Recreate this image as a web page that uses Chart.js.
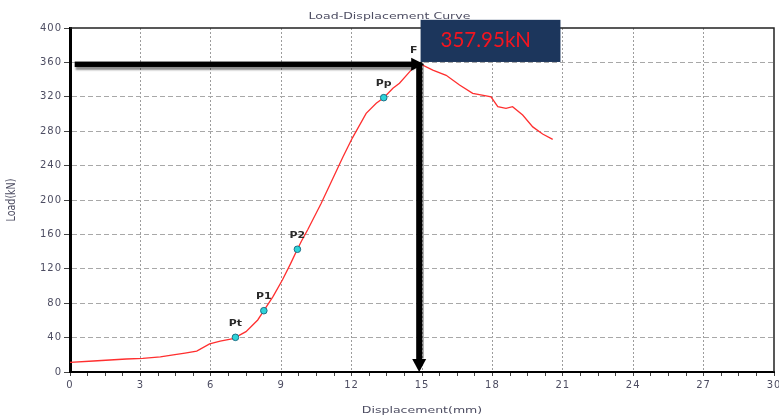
<!DOCTYPE html>
<html><head><meta charset="utf-8">
<script src="https://cdn.jsdelivr.net/npm/chart.js@4.4.1/dist/chart.umd.min.js"></script>
<style>html,body{margin:0;padding:0;background:#fff;overflow:hidden}canvas{display:block}</style>
</head><body>
<canvas id="c" width="779" height="417"></canvas>
<script>
// ---- data ----
const displacement = [0, 1.0, 2.4, 3.1, 3.85, 4.4, 4.9, 5.4, 5.95, 6.4, 6.95, 7.05, 7.5, 8.0, 8.26, 8.65, 9.05, 9.4, 9.69, 9.86, 10.14, 10.7, 11.2, 11.63, 12.03, 12.62, 13.05, 13.37, 13.76, 14.04, 14.6, 14.95, 15.46, 16.03, 16.6, 17.16, 17.73, 17.94, 18.23, 18.58, 18.86, 19.29, 19.72, 20.14, 20.57];
const load = [11.3, 12.8, 15.1, 15.9, 17.5, 19.8, 22, 24.4, 32.6, 36, 38.7, 40.3, 46.9, 60.5, 71.3, 87.6, 107, 126, 142.7, 152, 166, 196, 225, 250, 272, 300.8, 312.5, 319, 330, 335.7, 353, 357.95, 351, 345, 333.7, 324, 321, 320, 308.5, 306.6, 308.5, 298.8, 285, 276.7, 270.5];
const markerNames = ['Pt', 'P1', 'P2', 'Pp', 'F'];
const markerDisp = [7.05, 8.26, 9.69, 13.37, 14.95];
const markerLoad = [40.3, 71.3, 142.7, 319, 357.95];
const xTickLabels = [0, 3, 6, 9, 12, 15, 18, 21, 24, 27, 30];
const yTickLabels = [0, 40, 80, 120, 160, 200, 240, 280, 320, 360, 400];
const peakLoad = 357.95;
const peakArrowDisp = 14.88;
const peakText = '357.95kN';
const chartTitle = 'Load-Displacement Curve';
const xTitle = 'Displacement(mm)';
const yTitle = 'Load(kN)';

const near = (v, list) => list.some(t => Math.abs(t - v) < 1e-6);
const TXT = '#4d4d62';

const decor = {
  id: 'decor',
  beforeDraw(chart) { chart.ctx.letterSpacing = '1px'; },
  beforeDatasetsDraw(chart) {
    const {ctx, chartArea: a} = chart;
    ctx.save();
    ctx.strokeStyle = '#222';
    ctx.lineWidth = 1.5;
    ctx.beginPath();
    ctx.moveTo(a.left, a.top); ctx.lineTo(a.right, a.top); ctx.lineTo(a.right, a.bottom);
    ctx.stroke();
    ctx.restore();
  },
  afterDatasetsDraw(chart) {
    const {ctx} = chart;
    const xs = chart.scales.x, ys = chart.scales.y;
    ctx.save();
    ctx.letterSpacing = '0px';
    // marker labels
    const meta = chart.getDatasetMeta(0);
    ctx.fillStyle = '#2a2a2a';
    ctx.font = 'bold 9.5px "DejaVu Sans"';
    ctx.textAlign = 'center';
    ctx.textBaseline = 'middle';
    meta.data.forEach((pt, i) => {
      const isF = markerNames[i] === 'F';
      ctx.save();
      ctx.translate(pt.x + (isF ? -7 : 0), pt.y - 14);
      ctx.scale(1.15, 1);
      ctx.fillText(markerNames[i], 0, 0);
      ctx.restore();
    });
    // arrows
    const hy = ys.getPixelForValue(peakLoad);
    const hx0 = xs.getPixelForValue(0.2);
    const vx = xs.getPixelForValue(peakArrowDisp);
    const y0 = ys.getPixelForValue(0);
    ctx.fillStyle = '#000';
    ctx.save();
    ctx.shadowColor = 'rgba(0,0,0,0.45)';
    ctx.shadowOffsetY = 3;
    ctx.shadowOffsetX = 1;
    ctx.shadowBlur = 2;
    ctx.fillRect(hx0, hy - 2.6, vx - hx0 - 6, 5.4);
    ctx.restore();
    ctx.beginPath();
    ctx.moveTo(vx + 5, hy); ctx.lineTo(vx - 8, hy - 6.5); ctx.lineTo(vx - 8, hy + 6.5); ctx.closePath();
    ctx.fill();
    ctx.save();
    ctx.shadowColor = 'rgba(0,0,0,0.3)';
    ctx.shadowOffsetX = 1.5;
    ctx.shadowBlur = 1;
    ctx.fillRect(vx - 3, hy - 2, 6, (y0 - 13) - (hy - 2));
    ctx.restore();
    ctx.beginPath();
    ctx.moveTo(vx - 7, y0 - 13); ctx.lineTo(vx + 7, y0 - 13); ctx.lineTo(vx, y0); ctx.closePath();
    ctx.fill();
    // value box
    const bx0 = xs.getPixelForValue(14.94), bx1 = xs.getPixelForValue(20.9);
    const by0 = ys.getPixelForValue(409.5), by1 = ys.getPixelForValue(360.5);
    ctx.fillStyle = '#1c365c';
    ctx.fillRect(bx0, by0, bx1 - bx0, by1 - by0);
    ctx.fillStyle = '#f5141f';
    ctx.font = '20.5px Lato';
    ctx.textAlign = 'left';
    ctx.textBaseline = 'alphabetic';
    ctx.fillText(peakText, bx0 + 20, by0 + 27);
    ctx.restore();
  },
  afterDraw(chart) {
    const {ctx, chartArea: a} = chart;
    ctx.save();
    ctx.letterSpacing = '0px';
    ctx.fillStyle = TXT;
    ctx.textAlign = 'center';
    ctx.textBaseline = 'alphabetic';
    ctx.font = '9.5px "DejaVu Sans"';
    // chart title
    ctx.save(); ctx.translate(chart.width / 2, 19); ctx.scale(1.32, 1); ctx.fillText(chartTitle, 0, 0); ctx.restore();
    // x title
    ctx.save(); ctx.translate((a.left + a.right) / 2, 413); ctx.scale(1.32, 1); ctx.fillText(xTitle, 0, 0); ctx.restore();
    // y title
    ctx.save(); ctx.translate(12, (a.top + a.bottom) / 2); ctx.scale(1.3, 1); ctx.rotate(-Math.PI / 2);
    ctx.textBaseline = 'middle'; ctx.fillText(yTitle, 0, 0); ctx.restore();
    ctx.restore();
  }
};

const tickFont = {family: 'DejaVu Sans', size: 10};

new Chart(document.getElementById('c'), {
  type: 'line',
  data: {
    datasets: [
      {
        data: markerDisp.map((x, i) => ({x, y: markerLoad[i]})),
        showLine: false,
        pointRadius: markerNames.map(n => n === 'F' ? 0 : 3.3),
        pointBackgroundColor: '#2ed3d8',
        pointBorderColor: '#1d6f86',
        pointBorderWidth: 1,
        order: 0
      },
      {
        data: displacement.map((x, i) => ({x, y: load[i]})),
        borderColor: '#ff2f2f',
        borderWidth: 1.3,
        pointRadius: 0,
        tension: 0,
        fill: false,
        order: 1
      }
    ]
  },
  options: {
    responsive: false,
    animation: false,
    devicePixelRatio: 1,
    layout: {padding: {top: 28, right: 4, left: 0, bottom: 0}},
    plugins: {legend: {display: false}, tooltip: {enabled: false}, title: {display: false}},
    scales: {
      x: {
        type: 'linear', min: 0, max: 30,
        afterFit(s) { s.height = 45; s.paddingLeft = 0; s.paddingRight = 0; },
        ticks: {
          stepSize: 0.75, autoSkip: false, maxRotation: 0, minRotation: 0, padding: 3,
          color: TXT, font: tickFont,
          callback: v => near(v, xTickLabels) ? String(Math.round(v)) : ''
        },
        grid: {
          color: c => (c.tick && near(c.tick.value, xTickLabels) && c.tick.value > 0 && c.tick.value < 30) ? '#9c9c9c' : 'rgba(0,0,0,0)',
          lineWidth: 1, tickLength: 4, tickColor: '#444', tickWidth: 1, tickBorderDash: []
        },
        border: {display: true, color: '#000', width: 2, dash: [2, 2]}
      },
      y: {
        min: 0, max: 400,
        afterFit(s) { s.width = 70; },
        ticks: {
          stepSize: 40, padding: 2, color: TXT, font: tickFont,
          callback: v => near(v, yTickLabels) ? String(v) : ''
        },
        grid: {
          color: c => (c.tick && c.tick.value > 0 && c.tick.value < 400) ? '#a8a8a8' : 'rgba(0,0,0,0)',
          lineWidth: 1, tickLength: 6, tickColor: '#444', tickWidth: 1, tickBorderDash: []
        },
        border: {display: true, color: '#000', width: 3, dash: [5, 3]}
      }
    }
  },
  plugins: [decor]
});
</script>
</body></html>
